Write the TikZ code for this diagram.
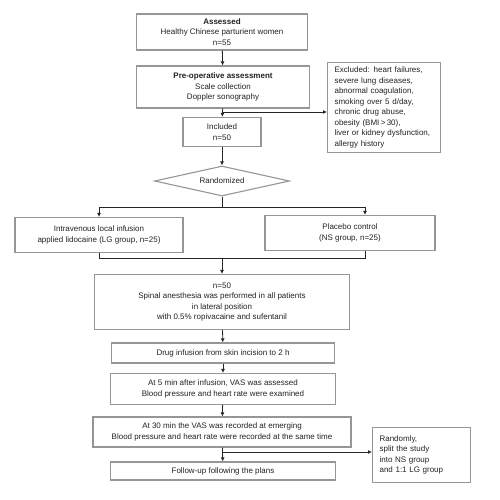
\documentclass[tikz,border=0pt]{standalone}
\usepackage{fontspec}
\setmainfont{Liberation Sans}
\usetikzlibrary{arrows.meta,positioning,shapes.geometric}
\definecolor{FcGray}{RGB}{150,150,150}
\definecolor{FcInk}{RGB}{35,35,35}
\tikzset{
  fc/box/.style={
    draw=FcGray,
    line width=1.1pt,
    fill=white,
    align=center,
    text=FcInk,
    inner xsep=3pt,
    inner ysep=2pt,
    font=\fontsize{8}{10.5}\selectfont
  },
  fc/note/.style={
    fc/box,
    anchor=north west,
    align=left,
    inner xsep=7pt,
    inner ysep=3pt
  },
  fc/decision/.style={
    diamond,
    aspect=4.5,
    draw=FcGray,
    line width=1.1pt,
    fill=white,
    text=FcInk,
    inner sep=0pt,
    font=\fontsize{8}{10}\selectfont
  },
  fc/arrow/.style={-{Latex[length=4pt,width=4pt]}, line width=0.8pt, draw=black!85},
  fc/line/.style={line width=0.8pt, draw=black!85}
}

\begin{document}
\begin{tikzpicture}[x=1pt,y=-1pt]
  \useasboundingbox (0,0) rectangle (500,500);
  % main column
  \node[fc/box, minimum width=171pt, minimum height=36pt] (assess) at (222,32)
    {\textbf{Assessed}\\Healthy Chinese parturient women\\n=55};
  \node[fc/box, minimum width=173pt, minimum height=42pt] (preop) at (223,87)
    {\textbf{Pre-operative assessment}\\Scale collection\\Doppler sonography};
  \node[fc/box, minimum width=78pt, minimum height=29pt] (incl) at (222,132)
    {Included\\n=50};
  \node[fc/decision, minimum width=135pt, minimum height=30pt] (rand) at (222,181) {Randomized};
  \node[fc/note, text width=99pt, minimum height=90pt] (excl) at (327,62)
    {Excluded: heart failures,\\severe lung diseases,\\abnormal coagulation,\\smoking over 5 d/day,\\chronic drug abuse,\\obesity (BMI\,>\,30),\\liver or kidney dysfunction,\\allergy history};
  % two arms
  \node[fc/box, minimum width=168pt, minimum height=35pt] (grpA) at (99,235)
    {Intravenous local infusion\\applied lidocaine (LG group, n=25)};
  \node[fc/box, minimum width=170pt, minimum height=35pt] (grpB) at (350,233)
    {Placebo control\\(NS group, n=25)};
  % follow-up steps
  \node[fc/box, minimum width=255pt, minimum height=55pt] (anes) at (222,302)
    {n=50\\Spinal anesthesia was performed in all patients\\in lateral position\\with 0.5\% ropivacaine and sufentanil};
  \node[fc/box, minimum width=223pt, minimum height=20pt] (infuse) at (223,353)
    {Drug infusion from skin incision to 2 h};
  \node[fc/box, minimum width=225pt, minimum height=31pt] (early) at (223,389)
    {At 5 min after infusion, VAS was assessed\\Blood pressure and heart rate were examined};
  \node[fc/box, minimum width=258pt, minimum height=30pt] (late) at (222,432)
    {At 30 min the VAS was recorded at emerging\\Blood pressure and heart rate were recorded at the same time};
  \node[fc/box, minimum width=225pt, minimum height=18pt] (plan) at (223,471)
    {Follow-up following the plans};
  \node[fc/note, text width=84pt, minimum height=55pt] (pick) at (372,427)
    {Randomly,\\split the study\\into NS group\\and 1:1 LG group};

  % connectors
  \coordinate (br1) at (222,112);
  \coordinate (split) at (222,207);
  \coordinate (join) at (222,258);
  \coordinate (br2) at (222,452);
  \draw[fc/arrow] (assess) -- (preop);
  \draw[fc/arrow] (preop) -- (incl);
  \draw[fc/arrow] (br1) -- (br1 -| excl.west);
  \draw[fc/arrow] (incl) -- (rand);
  \draw[fc/line] (rand) -- (split);
  \draw[fc/arrow] (split) -| (grpA);
  \draw[fc/arrow] (split) -| ([xshift=15pt]grpB.north);
  \draw[fc/line] (grpA) |- (join);
  \draw[fc/line] ([xshift=15pt]grpB.south) |- (join);
  \draw[fc/arrow] (join) -- (anes);
  \draw[fc/arrow] (anes) -- (infuse);
  \draw[fc/arrow] (infuse) -- (early);
  \draw[fc/arrow] (early) -- (late);
  \draw[fc/arrow] (late) -- (plan);
  \draw[fc/arrow] (br2) -- (br2 -| pick.west);
\end{tikzpicture}
\end{document}
